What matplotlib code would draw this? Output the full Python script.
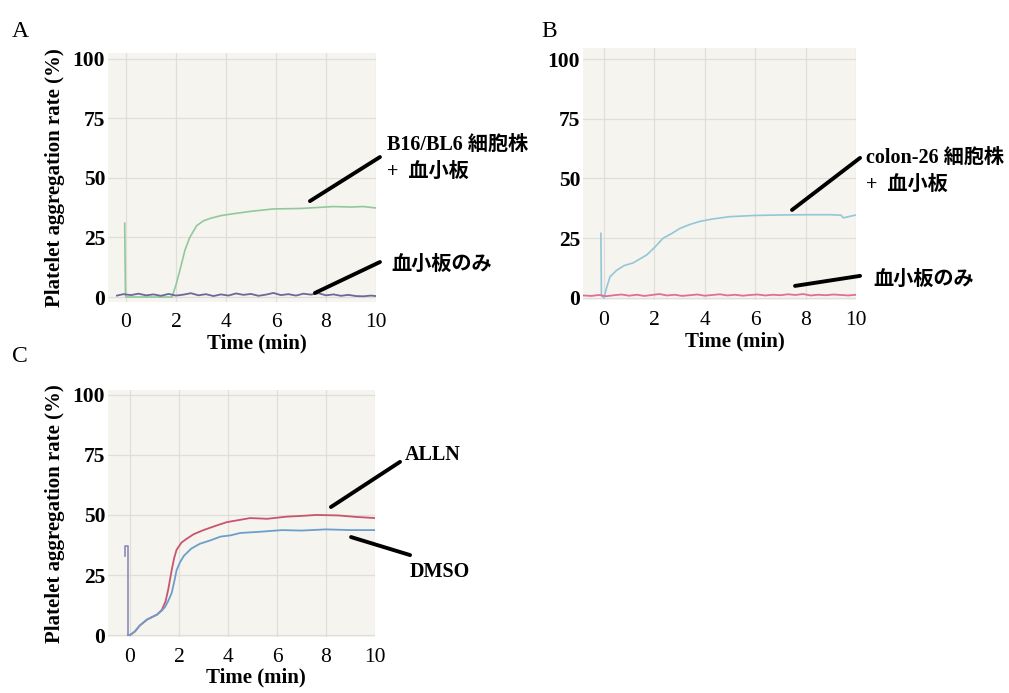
import matplotlib
matplotlib.use('Agg')
import matplotlib.pyplot as plt

plt.rcParams['font.family'] = ['Liberation Serif', 'Noto Sans CJK JP']

# panel A : B16/BL6 cells + platelets vs platelets only
a_cell_t = [-0.05, -0.05, -0.02, 0.0, 1.0, 1.84, 2.0, 2.2, 2.36, 2.55, 2.83, 3.1, 3.36,
            3.8, 4.3, 5.0, 5.9, 7.0, 8.3, 9.0, 9.5, 10.0]
a_cell_y = [31, 29, 2, 0, 0, 0, 5, 13, 19.7, 25, 30, 32, 33,
            34.2, 35, 36, 37, 37.2, 38, 37.8, 38, 37.4]
a_plt_t = [-0.36, -0.1, 0.2, 0.5, 0.8, 1.1, 1.4, 1.7, 2.0, 2.3, 2.6, 2.9, 3.2, 3.5, 3.8,
           4.1, 4.4, 4.7, 5.0, 5.3, 5.6, 5.9, 6.2, 6.5, 6.8, 7.1, 7.4, 7.7, 8.0, 8.3,
           8.6, 8.9, 9.2, 9.5, 9.8, 10.0]
a_plt_y = [0.6, 1.2, 0.8, 1.4, 0.7, 1.1, 0.5, 1.3, 0.6, 1.0, 1.6, 0.7, 1.2, 0.4, 1.1,
           0.6, 1.5, 0.9, 1.3, 0.5, 1.0, 1.7, 0.8, 1.2, 0.6, 1.4, 1.0, 1.6, 0.7, 1.1,
           0.5, 0.9, 0.4, 0.3, 0.6, 0.4]

# panel B : colon-26 cells + platelets vs platelets only
b_cell_t = [-0.12, -0.12, -0.1, 0.0, 0.1, 0.24, 0.5, 0.8, 1.15, 1.3, 1.7, 2.0, 2.35, 2.7,
            3.0, 3.4, 3.8, 4.3, 5.0, 6.0, 7.0, 8.0, 9.0, 9.4, 9.5, 10.0]
b_cell_y = [27, 26, 1, 0, 4, 8.8, 11.5, 13.5, 14.6, 15.5, 18, 21, 25, 27,
            29, 30.7, 32, 33, 34, 34.5, 34.7, 34.8, 34.8, 34.6, 33.5, 34.7]
b_plt_t = [-0.8, -0.5, -0.2, 0.1, 0.4, 0.7, 1.0, 1.3, 1.6, 1.9, 2.2, 2.5, 2.8, 3.1, 3.4,
           3.7, 4.0, 4.3, 4.6, 4.9, 5.2, 5.5, 5.8, 6.1, 6.4, 6.7, 7.0, 7.3, 7.6, 7.9,
           8.2, 8.5, 8.8, 9.1, 9.4, 9.7, 10.0]
b_plt_y = [1.0, 0.8, 1.2, 0.7, 1.1, 1.4, 0.9, 1.3, 0.8, 1.2, 1.6, 1.0, 1.3, 0.8, 1.1,
           1.4, 0.9, 1.2, 1.5, 1.0, 1.3, 0.9, 1.2, 1.4, 1.0, 1.3, 1.1, 1.5, 1.2, 1.6,
           1.0, 1.3, 1.1, 1.4, 1.2, 1.0, 1.3]

# panel C : ALLN vs DMSO
c_spike_t = [-0.2, -0.2, -0.08, -0.08]
c_spike_y = [33, 37, 37, 0]
c_alln_t = [-0.08, 0.0, 0.2, 0.4, 0.7, 1.1, 1.3, 1.45, 1.56, 1.7, 1.8, 1.9, 2.1, 2.3,
            2.6, 3.0, 3.5, 3.95, 4.4, 4.9, 5.6, 6.4, 7.0, 7.6, 8.5, 9.2, 10.0]
c_alln_y = [0, 0, 1.5, 4, 6.5, 8.5, 10.5, 14, 19, 27, 32, 35.5, 38.5, 40,
            42, 43.7, 45.5, 47, 47.8, 48.7, 48.4, 49.3, 49.6, 50, 49.8, 49.2, 48.7]
c_dmso_t = [-0.08, 0.0, 0.2, 0.4, 0.7, 1.1, 1.3, 1.43, 1.55, 1.7, 1.8, 1.9, 2.05, 2.2,
            2.5, 2.85, 3.3, 3.7, 4.1, 4.5, 5.3, 6.2, 7.0, 8.0, 9.0, 10.0]
c_dmso_y = [0, 0, 1.5, 4, 6.5, 8.5, 10.2, 11.7, 14, 17.5, 22, 27, 30.5, 33,
            36, 38, 39.5, 41, 41.5, 42.5, 43, 43.7, 43.5, 44, 43.7, 43.7]

x_ticks = [0, 2, 4, 6, 8, 10]
y_ticks = [0, 25, 50, 75, 100]
ylab = 'Platelet aggregation rate (%)'
xlab = 'Time (min)'

fig = plt.figure(figsize=(10.09, 6.93), dpi=100)


def setup(rect, xlim, ylim, with_ylabel):
    ax = fig.add_axes(rect)
    ax.set_facecolor('#f5f4ef')
    ax.set_xlim(*xlim)
    ax.set_ylim(*ylim)
    ax.set_xticks(x_ticks)
    ax.set_yticks(y_ticks)
    ax.set_xticklabels([str(v) for v in x_ticks], fontsize=15.5)
    ax.set_yticklabels([str(v) for v in y_ticks], fontsize=15.5, fontweight='bold')
    ax.tick_params(length=0)
    ax.tick_params(axis='x', pad=8)
    ax.tick_params(axis='y', pad=2)
    ax.grid(True, color='#e0ded8', lw=0.9)
    for s in ax.spines.values():
        s.set_visible(False)
    ax.set_xlabel(xlab, fontsize=15, fontweight='bold')
    ax.xaxis.set_label_coords(0.555, -0.125)
    if with_ylabel:
        ax.set_ylabel(ylab, fontsize=15, fontweight='bold')
        ax.yaxis.set_label_coords(-0.16, 0.5)
    return ax


def pointer(ax, start, end, text, text_xy):
    ax.annotate('', xy=end, xytext=start, annotation_clip=False,
                arrowprops=dict(arrowstyle='-', lw=2.8, color='black',
                                shrinkA=0, shrinkB=0))
    ax.text(text_xy[0], text_xy[1], text, fontsize=14.5, fontweight='bold',
            ha='left', va='center', clip_on=False)


# A
axA = setup([0.107, 0.5642, 0.2656, 0.3593], (-0.72, 10), (-2.1, 102.5), True)
axA.plot(a_cell_t, a_cell_y, color='#92c89c', lw=1.2)
axA.plot(a_plt_t, a_plt_y, color='#6c6899', lw=1.3)
pointer(axA, (10.16, 58.8), (7.36, 40.3), 'B16/BL6 細胞株', (10.44, 63.9))
axA.text(10.44, 52.5, '+  血小板', fontsize=14.5, fontweight='bold', ha='left', va='center')
pointer(axA, (10.16, 14.7), (7.56, 1.7), '血小板のみ', (10.6, 13.4))
fig.text(0.012, 0.955, 'A', fontsize=17, family='Liberation Serif', va='center')

# B
axB = setup([0.5778, 0.5671, 0.2706, 0.3636], (-0.83, 10), (-0.9, 104.6), False)
axB.plot(b_cell_t, b_cell_y, color='#93c6d8', lw=1.2)
axB.plot(b_plt_t, b_plt_y, color='#e26c9c', lw=1.3)
pointer(axB, (10.16, 58.6), (7.46, 36.8), 'colon-26 細胞株', (10.4, 58.6))
axB.text(10.4, 47.3, '+  血小板', fontsize=14.5, fontweight='bold', ha='left', va='center')
pointer(axB, (10.16, 9.2), (7.58, 5.0), '血小板のみ', (10.67, 7.5))
fig.text(0.537, 0.955, 'B', fontsize=17, family='Liberation Serif', va='center')

# C
axC = setup([0.107, 0.0808, 0.2647, 0.3564], (-0.9, 10), (-0.8, 102), True)
axC.plot(c_spike_t, c_spike_y, color='#8c8ab8', lw=1.2)
axC.plot(c_alln_t, c_alln_y, color='#c9546c', lw=1.3)
axC.plot(c_dmso_t, c_dmso_y, color='#6d9ecb', lw=1.3)
pointer(axC, (11.02, 72.1), (8.2, 53.3), 'ALLN', (11.2, 75))
pointer(axC, (9.02, 40.8), (11.43, 33.3), 'DMSO', (11.43, 26.2))
fig.text(0.012, 0.485, 'C', fontsize=17, family='Liberation Serif', va='center')

fig.savefig('out.png', dpi=100)
